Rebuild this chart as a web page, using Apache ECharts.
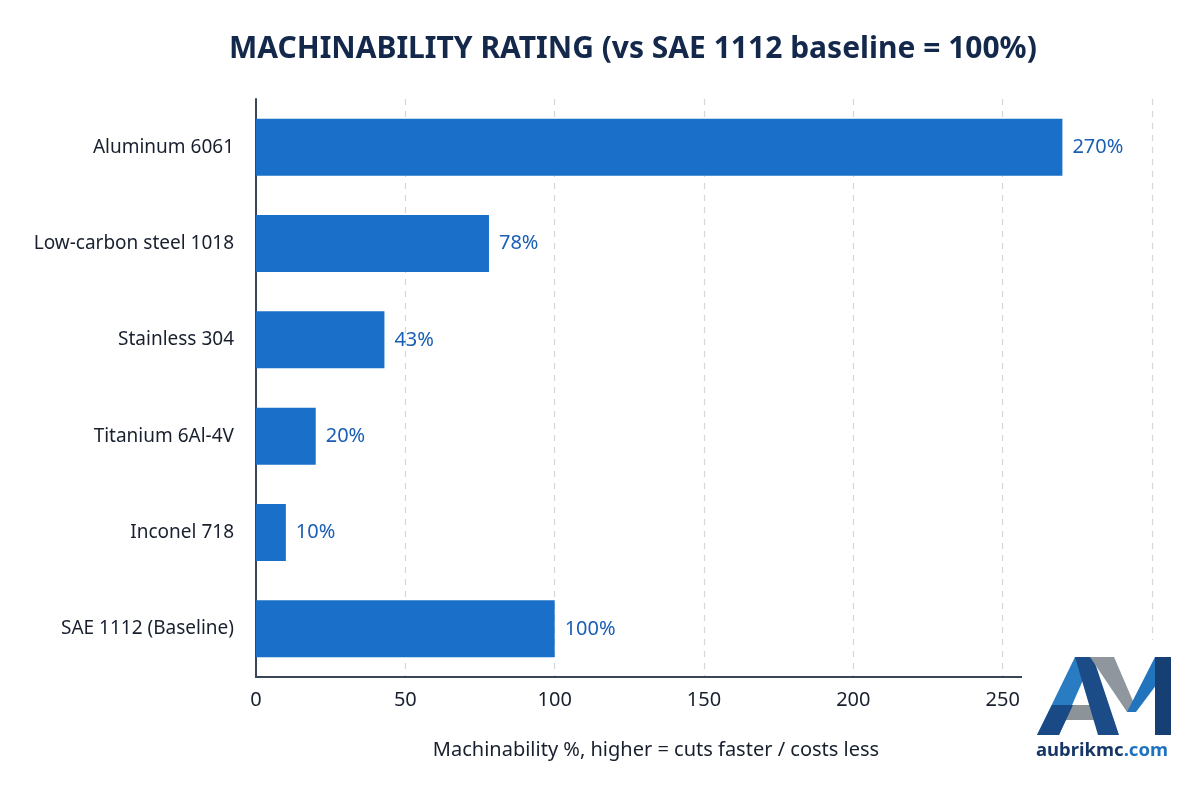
<!DOCTYPE html>
<html>
<head>
<meta charset="utf-8">
<script src="https://cdn.jsdelivr.net/npm/echarts@6/dist/echarts.min.js"></script>
<style>
  html, body { margin: 0; padding: 0; background: #fff; }
  #chart { width: 1200px; height: 800px; }
</style>
</head>
<body>
<div id="chart"></div>
<script>
// materials, top to bottom
var materials = ['Aluminum 6061', 'Low-carbon steel 1018', 'Stainless 304', 'Titanium 6Al-4V', 'Inconel 718', 'SAE 1112 (Baseline)'];
var rating = [270, 78, 43, 20, 10, 100];
var xTicks = [0, 50, 100, 150, 200, 250, 300];

var textDark = '#18202e';
var barBlue = '#1a70c8';

var chart = echarts.init(document.getElementById('chart'));
chart.setOption({
    backgroundColor: '#ffffff',
    title: {
        text: 'MACHINABILITY RATING (vs SAE 1112 baseline = 100%)',
        left: 224,
        top: 29,
        textStyle: {
            fontFamily: 'Noto Sans',
            fontSize: 30,
            fontWeight: 'bold',
            color: '#13284b'
        }
    },
    grid: {
        left: 256,
        right: 48,
        top: 99,
        bottom: 123
    },
    xAxis: {
        type: 'value',
        min: xTicks[0],
        max: xTicks[xTicks.length - 1],
        interval: 50,
        name: 'Machinability %, higher = cuts faster / costs less',
        nameLocation: 'middle',
        nameGap: 63,
        nameTextStyle: { fontFamily: 'Noto Sans', fontSize: 20, color: textDark, padding: [0, 96, 0, 0] },
        axisLine: { show: true, lineStyle: { color: '#3a4657', width: 2 } },
        axisTick: { show: false },
        axisLabel: { fontFamily: 'Noto Sans', fontSize: 20, color: textDark, margin: 13 },
        splitLine: { show: true, lineStyle: { color: '#d2d5da', type: [6, 6], width: 1.2 } }
    },
    yAxis: {
        type: 'category',
        data: materials,
        inverse: true,
        axisLine: { show: true, lineStyle: { color: '#3a4657', width: 2 } },
        axisTick: { show: false },
        axisLabel: { fontFamily: 'Noto Sans', fontSize: 19, color: textDark, margin: 22 }
    },
    series: [{
        type: 'bar',
        data: rating,
        barWidth: 57,
        itemStyle: { color: barBlue },
        label: {
            show: true,
            position: 'right',
            distance: 10,
            formatter: '{c}%',
            fontFamily: 'Noto Sans',
            fontSize: 20,
            color: '#1a5fb4'
        }
    }],
    graphic: [
        { type: 'rect', shape: { x: 1022, y: 640, width: 168, height: 150 }, style: { fill: '#ffffff' }, z: 100 },
        { type: 'polygon', shape: { points: [[1037, 735], [1075, 657], [1093, 657], [1059, 735]] }, style: { fill: '#2a7cc2' }, z: 101 },
        { type: 'polygon', shape: { points: [[1037, 735], [1052, 705], [1073, 705], [1059, 735]] }, style: { fill: '#1a4a85' }, z: 102 },
        { type: 'polygon', shape: { points: [[1075, 657], [1093, 657], [1119, 735], [1098, 735]] }, style: { fill: '#1b4c88' }, z: 101 },
        { type: 'polygon', shape: { points: [[1066, 705], [1106, 705], [1111, 720], [1064, 720]] }, style: { fill: '#8c9399' }, z: 100 },
        { type: 'polygon', shape: { points: [[1090, 657], [1114, 657], [1136, 708], [1127, 712]] }, style: { fill: '#8f969d' }, z: 101 },
        { type: 'polygon', shape: { points: [[1127, 712], [1155, 657], [1157, 684], [1136, 712]] }, style: { fill: '#2274bd' }, z: 102 },
        { type: 'rect', shape: { x: 1155, y: 657, width: 16, height: 78 }, style: { fill: '#163f74' }, z: 102 },
        {
            type: 'text', left: 1036, top: 741, z: 102,
            style: {
                rich: {
                    a: { fontFamily: 'Noto Sans', fontWeight: 'bold', fontSize: 18.5, fill: '#163765' },
                    b: { fontFamily: 'Noto Sans', fontWeight: 'bold', fontSize: 18.5, fill: '#1f72bf' }
                },
                text: '{a|aubrikmc}{b|.com}'
            }
        }
    ]
});
</script>
</body>
</html>
